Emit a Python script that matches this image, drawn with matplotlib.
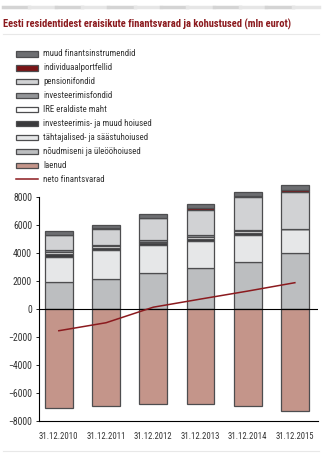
import numpy as np
import matplotlib
matplotlib.use("Agg")
import matplotlib.pyplot as plt
import matplotlib.patches as mpatches
from matplotlib.lines import Line2D
from matplotlib import font_manager

# ── Data (mln eurot) ─────────────────────────────────────────────────────────

dates = ["31.12.2010", "31.12.2011", "31.12.2012", "31.12.2013", "31.12.2014", "31.12.2015"]

noudmiseni   = [1970, 2150, 2570, 2930, 3400, 4050]
tahtajalised = [1790, 2080, 2020, 1970, 1900, 1660]
invest_hoius = [220, 170, 120, 140, 140, 0]
ire_maht     = [140, 100, 120, 120, 120, 0]
invest_fond  = [100, 100, 120, 140, 140, 0]
pension      = [1080, 1170, 1550, 1790, 2290, 2690]
individ      = [20, 30, 40, 150, 120, 120]
muud         = [290, 190, 270, 260, 240, 360]

laenud = [-7070, -6905, -6762, -6762, -6928, -7237]
neto   = [-1530, -960, 150, 730, 1300, 1900]

# ── Styles ───────────────────────────────────────────────────────────────────

names = {f.name for f in font_manager.fontManager.ttflist}
FONT = "DejaVu Sans"
for cand in ("Liberation Sans Narrow", "DejaVu Sans Condensed", "Roboto Condensed",
             "Open Sans Condensed", "Noto Sans"):
    if cand in names:
        FONT = cand
        break
plt.rcParams["font.family"] = [FONT, "DejaVu Sans"]
if FONT == "DejaVu Sans":
    plt.rcParams["font.stretch"] = "condensed"

DARKRED = "#8b1a1e"
EDGE = "#4d4d4f"
TXT = "#333333"

# bottom → top stacking order of the asset side
stack = [
    ("nõudmiseni ja üleööhoiused",       noudmiseni,   "#bcbec0"),
    ("tähtajalised- ja säästuhoiused",   tahtajalised, "#e6e7e8"),
    ("investeerimis- ja muud hoiused",   invest_hoius, "#3a3a3c"),
    ("IRE eraldiste maht",               ire_maht,     "#ffffff"),
    ("investeerimisfondid",              invest_fond,  "#939598"),
    ("pensionifondid",                   pension,      "#d1d2d4"),
    ("individuaalportfellid",            individ,      "#7a1416"),
    ("muud finantsinstrumendid",         muud,         "#6d6e71"),
]
LOAN_COLOR = "#c4958a"


def fit_width(fig, txt, width_px):
    """Shrink or grow a text until it spans width_px pixels."""
    r = fig.canvas.get_renderer()
    for _ in range(3):
        wpx = txt.get_window_extent(r).width
        txt.set_fontsize(txt.get_fontsize() * width_px / wpx)


# ── Figure ───────────────────────────────────────────────────────────────────

fig = plt.figure(figsize=(3.27, 4.62), dpi=100)

# dashed grey stripe at the very top
for i in range(12):
    x0 = 3 / 327 + i * (316 / 327) / 12
    col = "#d4d4d4" if i % 2 == 0 else "#e6e6e6"
    fig.add_artist(Line2D([x0, x0 + (316 / 327) / 12], [1 - 6.5 / 462] * 2,
                          color=col, lw=2.5, transform=fig.transFigure))

title = fig.text(3 / 327, 1 - 24 / 462,
                 "Eesti residentidest eraisikute finantsvarad ja kohustused (mln eurot)",
                 color=DARKRED, fontsize=6.6, fontweight="bold", va="center", ha="left")
fit_width(fig, title, 286)
fig.add_artist(Line2D([3 / 327, 319 / 327], [1 - 34 / 462] * 2, color="#e8e8e8", lw=0.8,
                      transform=fig.transFigure))
fig.add_artist(Line2D([3 / 327, 319 / 327], [1 - 451 / 462] * 2, color="#e8e8e8", lw=0.8,
                      transform=fig.transFigure))

ax = fig.add_axes([39 / 327, 40.7 / 462, 279 / 327, 224 / 462])

x = np.arange(len(dates))
w = 0.59
bottom = np.zeros(len(dates))
for label, vals, color in stack:
    vals = np.array(vals, dtype=float)
    ax.bar(x, vals, w, bottom=bottom, color=color, edgecolor=EDGE, linewidth=0.9,
           label=label, clip_on=False, zorder=2)
    bottom += vals

ax.bar(x, laenud, w, color=LOAN_COLOR, edgecolor=EDGE, linewidth=0.9,
       label="laenud", zorder=2)
ax.plot(x, neto, color=DARKRED, lw=1.1, label="neto finantsvarad", zorder=4)

ax.axhline(0, color="black", lw=0.8, zorder=3)
ax.set_ylim(-8000, 8000)
ax.set_xlim(-0.42, 5.49)
ax.set_yticks(np.arange(-8000, 8001, 2000))
ax.set_xticks(x)
ax.set_xticklabels(dates, fontsize=5.6, color=TXT)
ax.tick_params(axis="y", labelsize=5.6, labelcolor=TXT, length=2, width=0.6, pad=3)
ax.tick_params(axis="x", length=0, pad=8)
for s in ("top", "right"):
    ax.spines[s].set_visible(False)
ax.spines["left"].set_linewidth(0.8)
ax.spines["bottom"].set_linewidth(0.8)

fig.canvas.draw()
for t in ax.get_xticklabels():
    fit_width(fig, t, 39)
ylabels = ax.get_yticklabels()
r = fig.canvas.get_renderer()
yscale = 19 / ylabels[-1].get_window_extent(r).width
for t in ylabels:
    t.set_fontsize(t.get_fontsize() * yscale)

# ── Legend ───────────────────────────────────────────────────────────────────

legend_rows = [
    ("muud finantsinstrumendid", "#6d6e71"),
    ("individuaalportfellid", "#7a1416"),
    ("pensionifondid", "#d1d2d4"),
    ("investeerimisfondid", "#939598"),
    ("IRE eraldiste maht", "#ffffff"),
    ("investeerimis- ja muud hoiused", "#3a3a3c"),
    ("tähtajalised- ja säästuhoiused", "#e6e7e8"),
    ("nõudmiseni ja üleööhoiused", "#bcbec0"),
    ("laenud", LOAN_COLOR),
]
leg_texts = []
for i, (label, color) in enumerate(legend_rows):
    yc = 54 + i * 13.9
    fig.add_artist(mpatches.Rectangle((16 / 327, 1 - (yc + 2.6) / 462), 22 / 327, 5.2 / 462,
                                      facecolor=color, edgecolor=EDGE, linewidth=0.9,
                                      transform=fig.transFigure))
    leg_texts.append(fig.text(43 / 327, 1 - yc / 462, label, fontsize=5.8, color=TXT,
                              va="center"))
yc = 54 + 9 * 13.9
fig.add_artist(Line2D([16 / 327, 38 / 327], [1 - yc / 462] * 2, color=DARKRED, lw=1.1,
                      transform=fig.transFigure))
leg_texts.append(fig.text(43 / 327, 1 - yc / 462, "neto finantsvarad", fontsize=5.8,
                          color=TXT, va="center"))

# scale all legend labels together from one reference label
ref = leg_texts[6]
scale = 105 / ref.get_window_extent(r).width
for t in leg_texts:
    t.set_fontsize(t.get_fontsize() * scale)

fig.savefig("out.png", dpi=100)
